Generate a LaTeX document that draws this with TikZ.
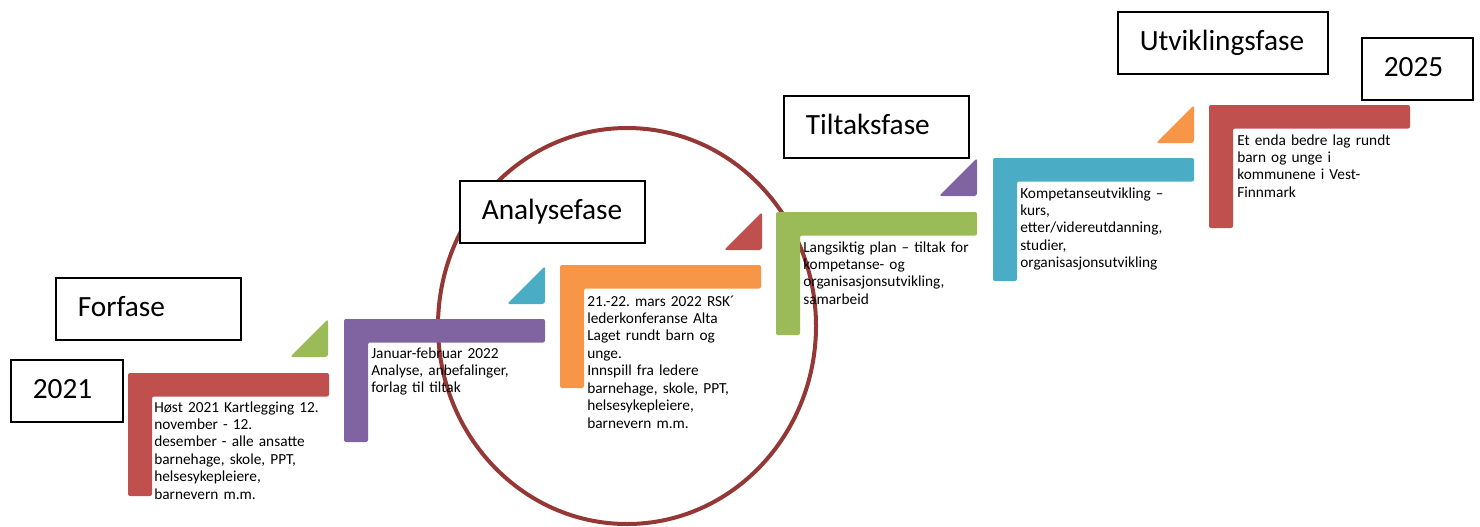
\documentclass[tikz,border=0pt]{standalone}
\usepackage{fontspec}
\setmainfont{Carlito}
\frenchspacing
\definecolor{rod}{HTML}{C0504D}
\definecolor{gronn}{HTML}{9BBB59}
\definecolor{lilla}{HTML}{8064A2}
\definecolor{bla}{HTML}{4BACC6}
\definecolor{oransje}{HTML}{F79646}
\definecolor{ring}{HTML}{953735}
% L-formet trinn: #1,#2 = hjoernet oppe til venstre, #3 = farge
\newcommand{\trinn}[3]{\fill[#3,rounded corners=1.5pt] (#1,#2) -- ++(201,0) -- ++(0,23.5) -- ++(-177,0) -- ++(0,99.5) -- ++(-24,0) -- cycle;}
% trekant: #1,#2 = spissen oppe til hoeyre, #3 = farge
\newcommand{\trekant}[3]{\fill[#3,rounded corners=2pt] (#1,#2) -- ++(0,38) -- ++(-38,0) -- cycle;}

\begin{document}
\begin{tikzpicture}[x=0.75pt,y=-0.75pt,
    fase/.style={draw,line width=1.2pt,fill=white,anchor=north west,align=left,
      font=\fontsize{22}{26}\selectfont,inner xsep=16.5pt,inner ysep=0pt,
      minimum height=46.5pt,text height=15pt,text depth=3.75pt,text width=#1},
    tekst/.style={anchor=base west,align=left,inner sep=0pt,text width=150pt,
      font=\fontsize{11.5}{13.1}\selectfont}]
    \useasboundingbox (0,0) rectangle (1480,526);

    \draw[ring,line width=3pt] (627,326) ellipse [x radius=189, y radius=198];

    \trinn{128}{373}{rod}
    \trekant{328}{319}{gronn}
    \trinn{344}{319}{lilla}
    \trekant{545}{266}{bla}
    \trinn{560}{265}{oransje}
    \trekant{762}{212}{rod}
    \trinn{776}{212}{gronn}
    \trekant{977}{158}{lilla}
    \trinn{993}{158}{bla}
    \trekant{1194}{105}{oransje}
    \trinn{1209}{105}{rod}

    \node[tekst] (hoest) at (154,412) {Høst 2021 Kartlegging 12.\\november - 12.\\desember - alle ansatte\\barnehage, skole, PPT,\\helsesykepleiere,\\barnevern m.m.};
    \node[tekst] (januar) at (371,358) {Januar-februar 2022\\Analyse, anbefalinger,\\forlag til tiltak};
    \node[tekst] (mars) at (587,306) {21.-22. mars 2022 RSK´\\lederkonferanse Alta\\Laget rundt barn og\\unge.\\Innspill fra ledere\\barnehage, skole, PPT,\\helsesykepleiere,\\barnevern m.m.};
    \node[tekst] (plan) at (803,252) {Langsiktig plan – tiltak for\\kompetanse- og\\organisasjonsutvikling,\\samarbeid};
    \node[tekst] (kompetanse) at (1020,198) {Kompetanseutvikling –\\kurs,\\etter/videreutdanning,\\studier,\\organisasjonsutvikling};
    \node[tekst] (lag) at (1237,145) {Et enda bedre lag rundt\\barn og unge i\\kommunene i Vest-\\Finnmark};

    \node[fase=105.75pt] (forfase) at (55,277) {Forfase};
    \node[fase=51pt] (aar2021) at (10,359) {2021};
    \node[fase=105.75pt] (analyse) at (459,180) {Analysefase};
    \node[fase=105.75pt] (tiltak) at (783,95) {Tiltaksfase};
    \node[fase=124.5pt] (utvikling) at (1117,11) {Utviklingsfase};
    \node[fase=50.25pt] (aar2025) at (1361,37) {2025};
\end{tikzpicture}
\end{document}
